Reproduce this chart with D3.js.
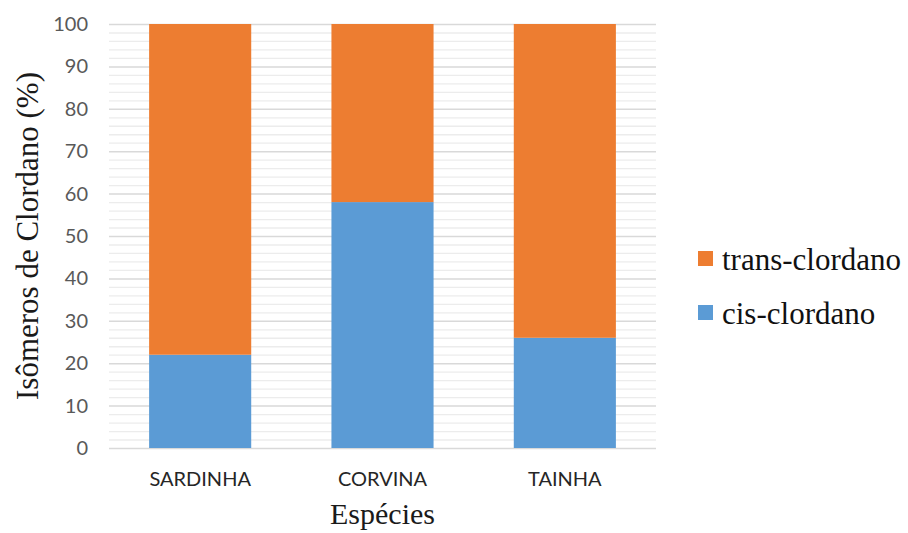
<!DOCTYPE html>
<html>
<head>
<meta charset="utf-8">
<script src="https://cdn.jsdelivr.net/npm/d3@7"></script>
<style>
  html, body { margin: 0; padding: 0; background: #fff; }
  svg { display: block; }
</style>
</head>
<body>
<svg id="chart" width="908" height="533"></svg>
<script>
// Species and isomer shares (%)
const species = ["SARDINHA", "CORVINA", "TAINHA"];
const cisClordano = [22, 58, 26];
const transClordano = [78, 42, 74];
const seriesNames = ["cis-clordano", "trans-clordano"];
const yTicks = [0, 10, 20, 30, 40, 50, 60, 70, 80, 90, 100];

const colors = { "cis-clordano": "#5b9bd5", "trans-clordano": "#ed7d31" };
const serif = "'Liberation Serif', 'Times New Roman', serif";
const sans = "Lato, 'Open Sans', sans-serif";

const svg = d3.select("#chart");
const margin = { left: 109, right: 252, top: 24, bottom: 85 };
const W = 908, H = 533;
const innerW = W - margin.left - margin.right;
const innerH = H - margin.top - margin.bottom;

const x = d3.scaleBand().domain(species).range([margin.left, margin.left + innerW])
  .paddingInner(0.44).paddingOuter(0.22);
const y = d3.scaleLinear().domain([0, 100]).range([margin.top + innerH, margin.top]);

// Minor gridlines every 2 units, major every 10
const minor = d3.range(0, 101, 2).filter(v => v % 10 !== 0);
svg.append("g").selectAll("line").data(minor).join("line")
  .attr("x1", margin.left).attr("x2", margin.left + innerW)
  .attr("y1", d => y(d) + 0.5).attr("y2", d => y(d) + 0.5)
  .attr("stroke", "#ececec").attr("stroke-width", 1.3);
svg.append("g").selectAll("line").data(yTicks).join("line")
  .attr("x1", margin.left).attr("x2", margin.left + innerW)
  .attr("y1", d => y(d) + 0.5).attr("y2", d => y(d) + 0.5)
  .attr("stroke", "#d9d9d9").attr("stroke-width", 1.5);

// Stacked bars
const rows = species.map((s, i) => ({ species: s, "cis-clordano": cisClordano[i], "trans-clordano": transClordano[i] }));
const stack = d3.stack().keys(seriesNames)(rows);
svg.append("g").selectAll("g").data(stack).join("g")
  .attr("fill", d => colors[d.key])
  .selectAll("rect").data(d => d).join("rect")
  .attr("x", d => x(d.data.species))
  .attr("width", x.bandwidth())
  .attr("y", d => y(d[1]))
  .attr("height", d => y(d[0]) - y(d[1]));

// Y axis tick labels
const yAxis = d3.axisLeft(y).tickValues(yTicks).tickSize(0).tickPadding(21);
const gy = svg.append("g").attr("transform", `translate(${margin.left},0)`).call(yAxis);
gy.select(".domain").remove();
gy.selectAll("text").attr("font-family", sans)
  .attr("font-size", 20).attr("fill", "#595959");

// X axis category labels
const xAxis = d3.axisBottom(x).tickSize(0).tickPadding(24);
const gx = svg.append("g").attr("transform", `translate(0,${margin.top + innerH})`).call(xAxis);
gx.select(".domain").remove();
gx.selectAll("text").attr("font-family", sans)
  .attr("font-size", 20).attr("fill", "#262626");

// Axis titles
svg.append("text")
  .attr("transform", `translate(38,${margin.top + innerH / 2}) rotate(-90)`)
  .attr("text-anchor", "middle")
  .attr("font-family", serif)
  .attr("font-size", 31).attr("fill", "#1a1a1a")
  .text("Isômeros de Clordano (%)");
svg.append("text")
  .attr("x", margin.left + innerW / 2).attr("y", 524)
  .attr("text-anchor", "middle")
  .attr("font-family", serif)
  .attr("font-size", 30).attr("fill", "#1a1a1a")
  .text("Espécies");

// Legend (trans on top)
const legendItems = ["trans-clordano", "cis-clordano"];
const lg = svg.append("g").selectAll("g").data(legendItems).join("g")
  .attr("transform", (d, i) => `translate(698,${251 + i * 54})`);
lg.append("rect").attr("width", 15).attr("height", 15).attr("fill", d => colors[d]);
lg.append("text").attr("x", 24).attr("y", 8).attr("dy", "0.35em")
  .attr("font-family", serif)
  .attr("font-size", 31).attr("fill", "#111")
  .text(d => d);
</script>
</body>
</html>
